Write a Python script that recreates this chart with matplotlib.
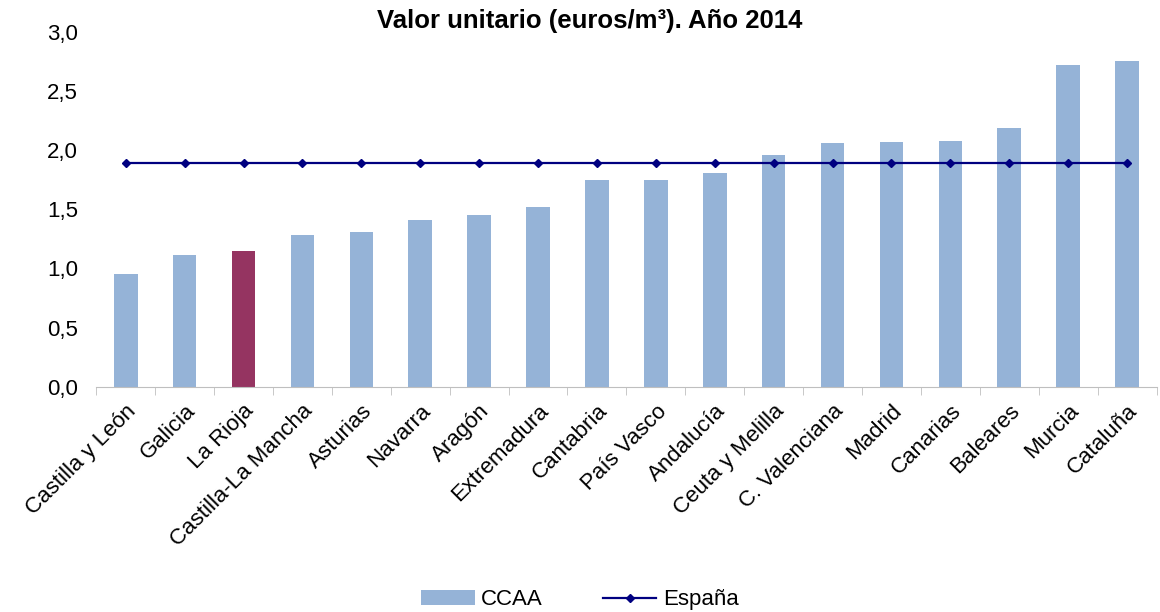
import numpy as np
import matplotlib.pyplot as plt
from matplotlib.ticker import FuncFormatter, FixedLocator

plt.rcParams['font.family'] = ['Liberation Sans', 'DejaVu Sans']

regiones = ['Castilla y León', 'Galicia', 'La Rioja', 'Castilla-La Mancha', 'Asturias',
            'Navarra', 'Aragón', 'Extremadura', 'Cantabria', 'País Vasco', 'Andalucía',
            'Ceuta y Melilla', 'C. Valenciana', 'Madrid', 'Canarias', 'Baleares',
            'Murcia', 'Cataluña']
valores = [0.95, 1.11, 1.15, 1.28, 1.31, 1.41, 1.45, 1.52, 1.75, 1.75, 1.81,
           1.96, 2.06, 2.07, 2.08, 2.19, 2.72, 2.75]
espana = 1.89
destacada = 'La Rioja'

x = np.arange(len(regiones))
colores = ['#953461' if r == destacada else '#95B3D7' for r in regiones]

fig = plt.figure(figsize=(11.6, 6.12), dpi=100)
ax = fig.add_axes([0.083, 0.368, 0.914, 0.58])

bars = ax.bar(x, valores, width=0.4, color=colores, label='CCAA', zorder=2)
ax.plot(x, [espana] * len(x), color='#000080', lw=1.6, marker='D', ms=4.5,
        label='España', zorder=3)

ax.set_xlim(-0.5, len(x) - 0.5)
ax.set_ylim(0, 3.0)
ax.set_yticks(np.arange(0, 3.01, 0.5))
ax.yaxis.set_major_formatter(FuncFormatter(lambda v, p: f'{v:.1f}'.replace('.', ',')))
ax.tick_params(axis='y', length=0, labelsize=16, pad=13)

ax.set_xticks(x)
ax.set_xticklabels(regiones, rotation=45, ha='right', rotation_mode='anchor', fontsize=16)
ax.xaxis.set_minor_locator(FixedLocator(np.arange(-0.5, len(x), 1.0)))
ax.tick_params(axis='x', which='major', length=0, pad=10)
ax.tick_params(axis='x', which='minor', length=6, color='#BFBFBF', direction='out')

for s in ['top', 'right', 'left']:
    ax.spines[s].set_visible(False)
ax.spines['bottom'].set_color('#BFBFBF')

fig.text(0.508, 0.985, 'Valor unitario (euros/m³). Año 2014', fontsize=18.5,
         fontweight='bold', ha='center', va='top')

h, l = ax.get_legend_handles_labels()
order = [l.index('CCAA'), l.index('España')]
fig.legend([h[i] for i in order], [l[i] for i in order], loc='lower center',
           bbox_to_anchor=(0.5, -0.03), ncol=2, frameon=False,
           fontsize=16, handlelength=2.4, handleheight=0.6, handletextpad=0.3,
           columnspacing=2.7)

fig.savefig('out.png', dpi=100)
